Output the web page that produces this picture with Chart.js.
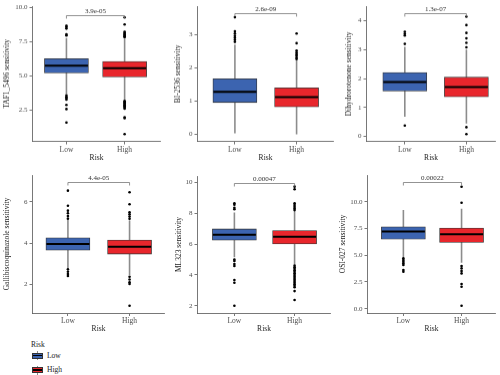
<!DOCTYPE html>
<html>
<head>
<meta charset="utf-8">
<script src="https://cdn.jsdelivr.net/npm/chart.js@4.4.0/dist/chart.umd.min.js"></script>
<style>
  body { margin: 0; background: #fff; width: 500px; height: 375px; overflow: hidden; position: relative; font-family: "Liberation Serif", serif; }
  .panel { position: absolute; }
  #legend { position: absolute; left: 31px; top: 340px; font-size: 7.5px; line-height: 9px; color: #222; }
  .row { position: relative; height: 14.7px; }
  .key { position: absolute; left: 1px; top: 0.5px; width: 11px; height: 11px; }
  .key .wh { position: absolute; left: 5px; top: 1px; width: 1px; height: 9px; background: #8c8c8c; }
  .key .bx { position: absolute; left: 0; top: 2.5px; width: 9px; height: 4px; border: 1px solid #333; }
  .key .md { position: absolute; left: 1px; top: 4.5px; width: 9px; height: 1.5px; background: #000; }
  .row span { position: absolute; left: 16px; top: 1px; }
</style>
</head>
<body>
<div id="legend">
  <div style="height:9.8px">Risk</div>
  <div class="row"><div class="key"><div class="wh"></div><div class="bx" style="background:#3c64b0"></div><div class="md"></div></div><span>Low</span></div>
  <div class="row"><div class="key"><div class="wh"></div><div class="bx" style="background:#e8262c"></div><div class="md"></div></div><span>High</span></div>
</div>
<script>
const groups = ['Low', 'High'];
const drugs = ['TAF1_5496', 'BI-2536', 'Dihydrorotenone', 'Gallibiscoquinazole', 'ML323', 'OSI-027'];
const pValues = ['3.9e-05', '2.6e-09', '1.3e-07', '4.4e-05', '0.00047', '0.00022'];

// per group: [lower whisker, q1, median, q3, upper whisker]
const taf1Stats = [[3.65, 5.19, 5.72, 6.23, 7.75], [3.25, 4.90, 5.55, 6.03, 7.70]];
const bi2536Stats = [[0.03, 0.96, 1.28, 1.67, 2.70], [0.00, 0.83, 1.12, 1.40, 2.22]];
const dihydroStats = [[0.68, 1.57, 1.88, 2.21, 3.10], [0.45, 1.37, 1.71, 2.05, 3.00]];
const galliStats = [[2.80, 3.66, 3.96, 4.26, 5.12], [2.45, 3.47, 3.83, 4.15, 5.10]];
const ml323Stats = [[5.15, 6.25, 6.61, 6.98, 8.05], [4.68, 6.00, 6.48, 6.87, 8.15]];
const osiStats = [[4.80, 6.49, 7.23, 7.66, 9.22], [4.30, 6.20, 6.95, 7.54, 9.35]];

const taf1Outliers = [
  [8.64, 8.55, 8.44, 8.03, 7.94, 3.56, 3.45, 3.35, 3.25, 2.86, 2.55, 1.57],
  [9.26, 8.74, 8.2, 8.12, 8.05, 7.98, 7.92, 7.86, 7.8, 3.15, 3.08, 3.0, 2.92, 2.85, 2.78, 2.72, 2.65, 2.58, 1.96, 1.88, 0.72]
];
const bi2536Outliers = [
  [3.52, 3.10, 3.03, 2.96, 2.90, 2.84, 2.78],
  [3.03, 2.74, 2.52, 2.46, 2.40, 2.35, 2.30, 2.26]
];
const dihydroOutliers = [
  [3.62, 3.55, 3.49, 3.20, 0.38],
  [4.14, 3.85, 3.58, 3.39, 3.24, 3.08, 0.32, 0.08]
];
const galliOutliers = [
  [6.55, 5.82, 5.58, 5.45, 5.32, 5.19, 2.73, 2.61, 2.50, 2.41],
  [6.47, 5.89, 5.50, 5.40, 5.29, 5.18, 2.37, 2.24, 2.10, 2.02, 0.96]
];
const ml323Outliers = [
  [8.64, 8.55, 8.35, 8.25, 5.00, 4.90, 4.70, 4.58, 3.67, 3.49, 2.00],
  [9.72, 9.55, 8.64, 8.53, 8.42, 8.31, 8.20, 4.60, 4.50, 4.40, 4.30, 4.20, 4.10, 4.00, 3.90, 3.80, 3.70, 3.60, 3.50, 3.40, 3.30, 3.20, 2.95, 2.37]
];
const osiOutliers = [
  [4.71, 4.56, 4.40, 4.24, 4.09, 3.62, 3.46],
  [11.40, 9.91, 3.99, 3.77, 3.52, 3.30, 2.31, 2.06, 0.28]
];

const taf1Ticks = ['2.5', '5.0', '7.5', '10.0'];
const bi2536Ticks = ['0', '1', '2', '3'];
const dihydroTicks = ['0', '1', '2', '3', '4'];
const galliTicks = ['2', '4', '6'];
const ml323Ticks = ['2', '4', '6', '8', '10'];
const osiTicks = ['0.0', '2.5', '5.0', '7.5', '10.0'];

const yRanges = [[0.19, 10.07], [-0.21, 3.85], [-0.17, 4.5], [0.61, 7.31], [1.53, 10.41], [-0.4, 12.5]];

const allStats = [taf1Stats, bi2536Stats, dihydroStats, galliStats, ml323Stats, osiStats];
const allOutliers = [taf1Outliers, bi2536Outliers, dihydroOutliers, galliOutliers, ml323Outliers, osiOutliers];
const allTicks = [taf1Ticks, bi2536Ticks, dihydroTicks, galliTicks, ml323Ticks, osiTicks];

// page layout of each panel (pixels)
const layout = [
  { L: 32, titleX: 7, pL: 67, pH: 127, right: 164, cTop: 0, top: 4, bottom: 140.5, brk: 9 },
  { L: 197, titleX: 178, pL: 235.5, pH: 299, right: 337, cTop: 0, top: 4, bottom: 140.5, brk: 7 },
  { L: 366, titleX: 349, pL: 405.5, pH: 469, right: 499, cTop: 0, top: 4, bottom: 140.5, brk: 7 },
  { L: 32, titleX: 7, pL: 68.5, pH: 132, right: 168, cTop: 160, top: 175, bottom: 313, brk: 7 },
  { L: 197, titleX: 179, pL: 235, pH: 297, right: 334, cTop: 160, top: 176, bottom: 313, brk: 7 },
  { L: 367, titleX: 343, pL: 404, pH: 464, right: 499, cTop: 160, top: 175, bottom: 313, brk: 7 }
];

const boxColors = ['#3c64b0', '#e8262c'];
const tickFont = { family: 'Liberation Serif', size: 7 };
const titleFont = { family: 'Liberation Serif', size: 7.5 };
const X_AXIS_H = 21;

function makePanel(i) {
  const lay = layout[i];
  const stats = allStats[i];
  const u = lay.pH - lay.pL;
  const xMin = 1 - (lay.pL - lay.L) / u;
  const xMax = 2 + (lay.right - lay.pH) / u;
  const axisW = lay.L - lay.titleX + 4.5;
  const left = lay.L - axisW;

  const div = document.createElement('div');
  div.className = 'panel';
  div.style.left = left + 'px';
  div.style.top = lay.cTop + 'px';
  div.style.width = (lay.right - left) + 'px';
  div.style.height = (lay.bottom - lay.cTop + X_AXIS_H) + 'px';
  const canvas = document.createElement('canvas');
  div.appendChild(canvas);
  document.body.appendChild(div);

  const whiskers = [];
  stats.forEach((s, g) => {
    whiskers.push({ x: g + 1, y: s[0] }, { x: g + 1, y: s[4] });
    if (g === 0) whiskers.push({ x: 1.5, y: null });
  });
  const points = [];
  allOutliers[i].forEach((list, g) => list.forEach(v => points.push({ x: g + 1, y: v })));

  const medianPlugin = {
    id: 'medians' + i,
    afterDatasetsDraw(chart) {
      const ctx = chart.ctx;
      const ys = chart.scales.y, xs = chart.scales.x;
      ctx.save();
      ctx.strokeStyle = '#000';
      ctx.lineWidth = 2;
      chart.getDatasetMeta(0).data.forEach((bar, g) => {
        const y = ys.getPixelForValue(stats[g][2]);
        ctx.beginPath();
        ctx.moveTo(bar.x - bar.width / 2 + 0.5, y);
        ctx.lineTo(bar.x + bar.width / 2 - 0.5, y);
        ctx.stroke();
      });
      // significance bracket with p-value
      const by = Math.round(chart.chartArea.top + lay.brk) + 0.5;
      const x1 = xs.getPixelForValue(1), x2 = xs.getPixelForValue(2);
      ctx.strokeStyle = '#777';
      ctx.lineWidth = 0.8;
      ctx.beginPath();
      ctx.moveTo(x1, by + 3);
      ctx.lineTo(x1, by);
      ctx.lineTo(x2, by);
      ctx.lineTo(x2, by + 3);
      ctx.stroke();
      ctx.fillStyle = '#333';
      ctx.font = '7px "Liberation Serif"';
      ctx.textAlign = 'center';
      ctx.textBaseline = 'bottom';
      ctx.fillText(pValues[i], (x1 + x2) / 2, by - 0.5);
      ctx.restore();
    }
  };

  new Chart(canvas, {
    type: 'bar',
    data: {
      datasets: [
        {
          type: 'bar',
          data: stats.map((s, g) => ({ x: g + 1, y: [s[1], s[3]] })),
          backgroundColor: boxColors,
          borderColor: '#333',
          borderWidth: 0.8,
          borderSkipped: false,
          barThickness: 44,
          order: 1
        },
        {
          type: 'line',
          data: whiskers,
          borderColor: '#8c8c8c',
          borderWidth: 1.6,
          pointRadius: 0,
          spanGaps: false,
          order: 3
        },
        {
          type: 'scatter',
          data: points,
          pointRadius: 1.3,
          pointBackgroundColor: '#000',
          pointBorderWidth: 0,
          order: 2
        }
      ]
    },
    options: {
      responsive: true,
      maintainAspectRatio: false,
      animation: false,
      layout: { padding: { top: lay.top - lay.cTop, left: 0, right: 0, bottom: 0 } },
      plugins: { legend: { display: false }, tooltip: { enabled: false } },
      scales: {
        x: {
          type: 'linear',
          min: xMin,
          max: xMax,
          offset: false,
          afterBuildTicks: s => { s.ticks = [{ value: 1 }, { value: 2 }]; },
          afterFit: s => { s.height = X_AXIS_H; },
          ticks: { callback: v => groups[v - 1], font: titleFont, color: '#4d4d4d', padding: 1, autoSkip: false, maxRotation: 0 },
          grid: { display: true, offset: false, drawOnChartArea: false, drawTicks: true, tickLength: 3, color: '#555', lineWidth: 0.8 },
          border: { display: true, color: '#555', width: 0.8 },
          title: { display: true, text: 'Risk', font: titleFont, color: '#222', padding: 0 }
        },
        y: {
          type: 'linear',
          min: yRanges[i][0],
          max: yRanges[i][1],
          afterBuildTicks: s => { s.ticks = allTicks[i].map(t => ({ value: parseFloat(t) })); },
          afterFit: s => { s.width = axisW; },
          ticks: { callback: (v, k) => allTicks[i][k], font: tickFont, color: '#4d4d4d', padding: 2 },
          grid: { display: true, drawOnChartArea: false, drawTicks: true, tickLength: 3, color: '#555', lineWidth: 0.8 },
          border: { display: true, color: '#555', width: 0.8 },
          title: { display: true, text: drugs[i] + ' sensitivity', font: titleFont, color: '#222', padding: 0 }
        }
      }
    },
    plugins: [medianPlugin]
  });
}

for (let i = 0; i < drugs.length; i++) makePanel(i);
</script>
</body>
</html>
